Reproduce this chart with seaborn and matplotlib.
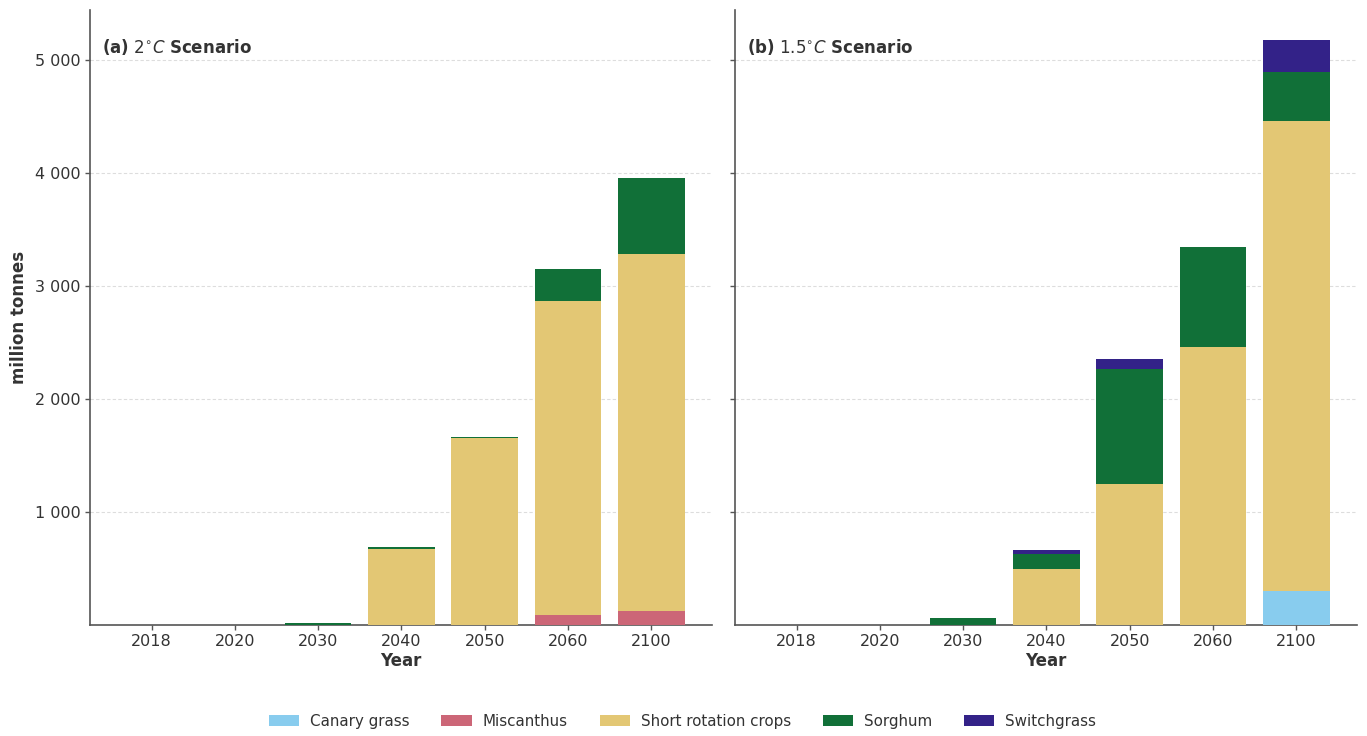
import numpy as np
import pandas as pd
import matplotlib
matplotlib.use("Agg")
import matplotlib.pyplot as plt
from matplotlib.patches import Patch
from matplotlib.ticker import FixedLocator, FuncFormatter
import seaborn as sns

# Biomass feedstock supply (million tonnes) by crop, year and scenario
years = ["2018", "2020", "2030", "2040", "2050", "2060", "2100"]
crops = ["Canary grass", "Miscanthus", "Short rotation crops", "Sorghum", "Switchgrass"]
colors = ["#88CCEE", "#CC6677", "#E3C774", "#117038", "#332288"]

# 2 °C scenario
canary_2c      = [0, 0, 0,   0,    0,    0,    0]
miscanthus_2c  = [0, 0, 0,   0,    0,   90,  127]
src_2c         = [0, 0, 0, 675, 1652, 2777, 3156]
sorghum_2c     = [0, 0, 20, 17,   10,  283,  673]
switchgrass_2c = [0, 0, 0,   0,    0,    0,    0]

# 1.5 °C scenario
canary_15      = [0, 0, 0,   0,    0,    0,  304]
miscanthus_15  = [0, 0, 0,   0,    0,    0,    0]
src_15         = [0, 0, 0, 493, 1248, 2460, 4156]
sorghum_15     = [0, 0, 65, 135, 1017, 885,  434]
switchgrass_15 = [0, 0, 0,  36,   89,    0,  283]

scenarios = [
    (r"$\bf{(a)}$ $2^{\circ}C$ $\bf{Scenario}$",
     [canary_2c, miscanthus_2c, src_2c, sorghum_2c, switchgrass_2c]),
    (r"$\bf{(b)}$ $1.5^{\circ}C$ $\bf{Scenario}$",
     [canary_15, miscanthus_15, src_15, sorghum_15, switchgrass_15]),
]

sns.set_theme(style="ticks")
plt.rcParams["font.family"] = ["DejaVu Sans"]
plt.rcParams["mathtext.fontset"] = "dejavusans"

fig = plt.figure(figsize=(13.67, 7.36), dpi=100)
ax1 = fig.add_axes([0.0658, 0.1508, 0.4551, 0.8356])
ax2 = fig.add_axes([0.5377, 0.1508, 0.4550, 0.8356], sharey=ax1)

ink = "#333333"

for ax, (title, series) in zip([ax1, ax2], scenarios):
    stack = np.array(series, dtype=float)
    cum = np.cumsum(stack, axis=0)
    # Draw cumulative totals from the top layer down so each crop shows its own slice
    for i in range(len(crops) - 1, -1, -1):
        df = pd.DataFrame({"Year": years, "Total": cum[i]})
        sns.barplot(data=df, x="Year", y="Total", order=years, color=colors[i],
                    width=0.8, saturation=1, linewidth=0, errorbar=None, ax=ax,
                    zorder=3)
    ax.set_xlim(-0.74, 6.73)
    ax.set_ylim(0, 5440)
    ax.yaxis.set_major_locator(FixedLocator([1000, 2000, 3000, 4000, 5000]))
    ax.yaxis.set_major_formatter(FuncFormatter(lambda v, p: f"{int(v):,}".replace(",", " ")))
    ax.grid(axis="y", linestyle=(0, (3, 2)), color="#dddddd", linewidth=0.8, zorder=0)
    ax.set_axisbelow(True)
    sns.despine(ax=ax)
    for s in ["left", "bottom"]:
        ax.spines[s].set_color("#555555")
        ax.spines[s].set_linewidth(1.2)
    ax.tick_params(axis="both", labelsize=11.5, colors="#555555", labelcolor=ink,
                   length=3.5, width=1, pad=3)
    ax.set_xlabel("Year", fontsize=12, fontweight="bold", color=ink, labelpad=2)
    ax.text(0.02, 0.94, title, transform=ax.transAxes, fontsize=12, color=ink,
            ha="left", va="center")

ax1.set_ylabel("million tonnes", fontsize=12, fontweight="bold", color=ink, labelpad=5)
ax2.set_ylabel("")
plt.setp(ax2.get_yticklabels(), visible=False)

handles = [Patch(facecolor=c, edgecolor="none", label=l) for c, l in zip(colors, crops)]
fig.legend(handles=handles, loc="center", bbox_to_anchor=(0.4993, 0.02), ncol=5,
           frameon=False, fontsize=10.9, handlelength=2.0, handleheight=0.75,
           columnspacing=2.1, handletextpad=0.73, labelcolor=ink)

fig.savefig("out.png", dpi=100)
